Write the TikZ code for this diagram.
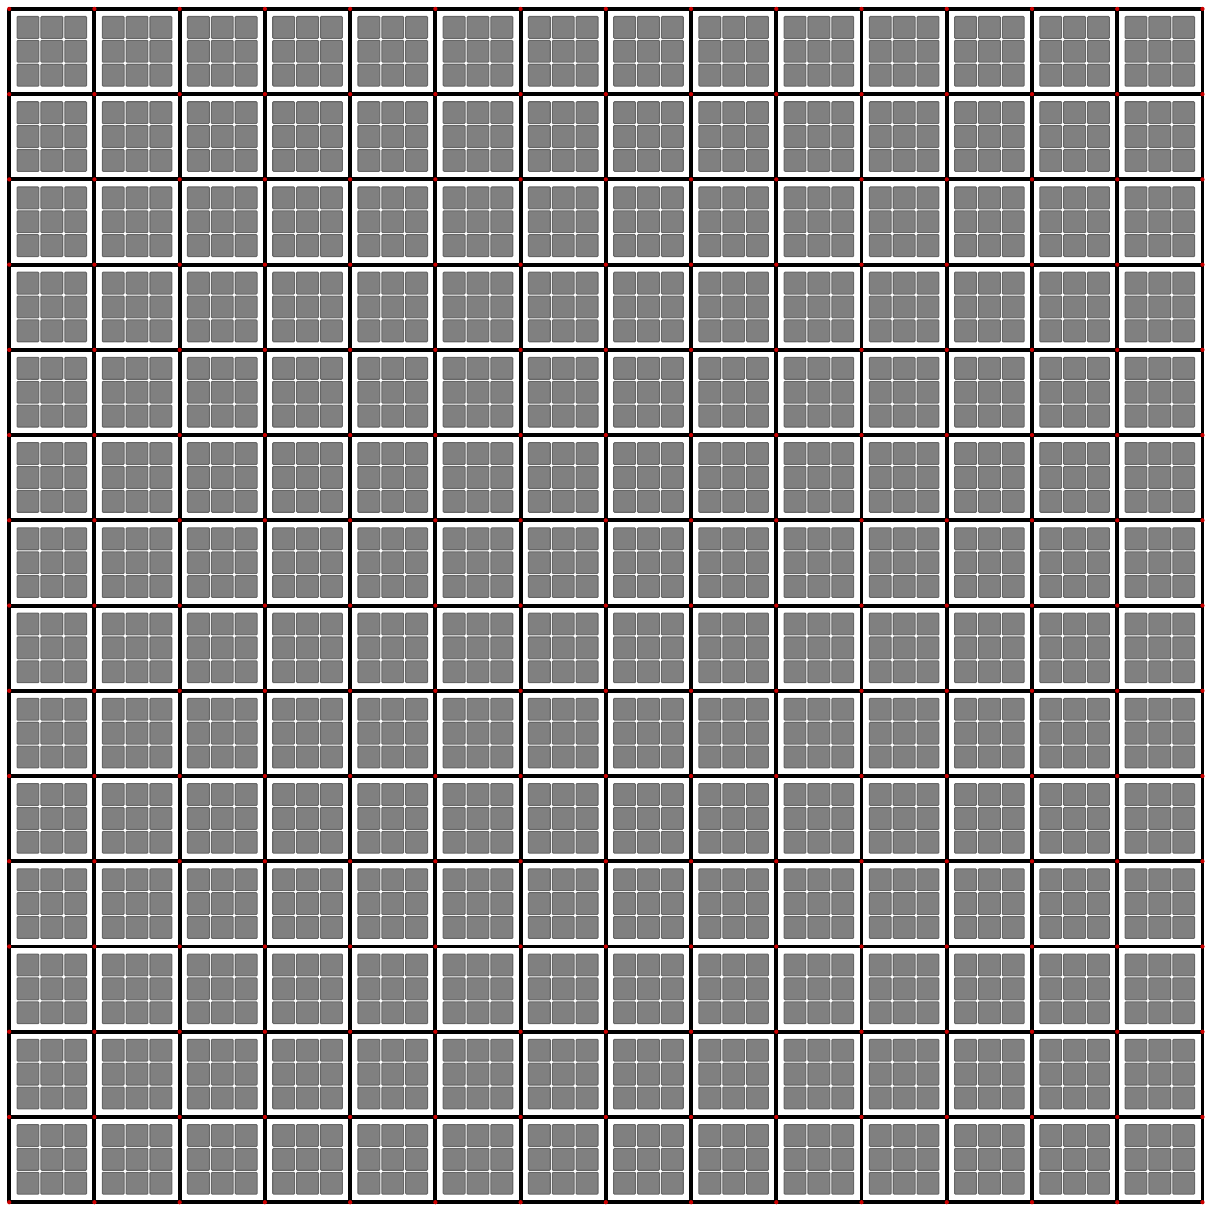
\documentclass[tikz,border=0pt]{standalone}
\usepackage{tikz}
\begin{document}
\begin{tikzpicture}[
  pad/.style={fill=gray, draw=black!60, line width=0.35pt, rounded corners=0.3pt},
  wall/.style={draw=black, line width=1.3pt},
  joint/.style={fill=red!80!black}
]
\useasboundingbox (-0.108,-0.07) rectangle (14.1,14.105);
% Pads in every cell
\foreach \i in {0,...,13}
  \foreach \j in {0,...,13}
    \foreach \a in {0,1,2}
      \foreach \b in {0,1,2}
        \draw[pad] ({\i+0.092+0.28*\a},{\j+0.095+0.28*\b}) rectangle +(0.256,0.256);
% Cell walls
\draw[wall] (0,0) grid (14,14);
% Joints
\foreach \i in {0,...,14}
  \foreach \j in {0,...,14}
    \fill[joint] (\i,\j) circle (0.025);
\end{tikzpicture}
\end{document}
